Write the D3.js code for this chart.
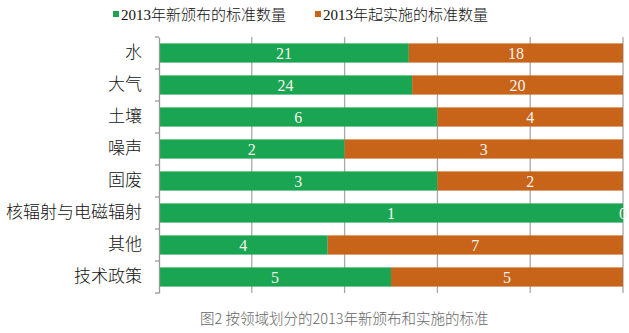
<!DOCTYPE html>
<html>
<head>
<meta charset="utf-8">
<script src="https://cdn.jsdelivr.net/npm/d3@7/dist/d3.min.js"></script>
<style>
  html, body { margin: 0; padding: 0; background: #fff; }
  svg { display: block; }
</style>
</head>
<body>
<svg id="chart" width="629" height="333"></svg>
<script>
// Standards by field: newly published in 2013 vs. taking effect in 2013
const categories = ["水", "大气", "土壤", "噪声", "固废", "核辐射与电磁辐射", "其他", "技术政策"];
const published = [21, 24, 6, 2, 3, 1, 4, 5];
const implemented = [18, 20, 4, 3, 2, 0, 7, 5];
const seriesNames = ["2013年新颁布的标准数量", "2013年起实施的标准数量"];
const seriesColors = ["#19a551", "#c8641a"];
const gridTicks = [0, 0.2, 0.4, 0.6, 0.8, 1];
const caption = "图2 按领域划分的2013年新颁布和实施的标准";

const svg = d3.select("#chart");
const margin = { left: 159, right: 6, top: 37, bottom: 40 };
const W = 629, H = 333;

const rows = categories.map((c, i) => {
  const total = published[i] + implemented[i];
  return { cat: c, vals: [published[i], implemented[i]], total };
});

const x = d3.scaleLinear().domain([0, 1]).range([margin.left, W - margin.right]);
const y = d3.scaleBand().domain(categories).range([margin.top, H - margin.bottom]).paddingInner(0.4).paddingOuter(0.2);

const serif = "'Liberation Serif', 'DejaVu Serif', 'Noto Sans CJK SC', serif";

// vertical gridlines behind bars
svg.append("g").selectAll("line").data(gridTicks.slice(1)).join("line")
  .attr("x1", d => x(d)).attr("x2", d => x(d))
  .attr("y1", margin.top).attr("y2", H - margin.bottom)
  .attr("stroke", "#a8a8a8").attr("stroke-width", 1.3);

// stacked 100% bars
const stack = rows.map(r => {
  let acc = 0;
  return r.vals.map((v, k) => {
    const s = { cat: r.cat, k, v, x0: acc / r.total, x1: (acc + v) / r.total };
    acc += v;
    return s;
  });
});

const seg = svg.append("g").selectAll("g").data(stack).join("g");
seg.selectAll("rect").data(d => d).join("rect")
  .attr("x", d => x(d.x0))
  .attr("width", d => x(d.x1) - x(d.x0))
  .attr("y", d => y(d.cat))
  .attr("height", y.bandwidth())
  .attr("fill", d => seriesColors[d.k]);

seg.selectAll("text").data(d => d).join("text")
  .attr("x", d => (x(d.x0) + x(d.x1)) / 2)
  .attr("y", d => y(d.cat) + y.bandwidth() / 2)
  .attr("dy", "0.36em")
  .attr("text-anchor", "middle")
  .attr("font-family", serif)
  .attr("font-size", 16)
  .attr("fill", "#f4f4ee")
  .text(d => d.v);

// left axis
const yAxis = d3.axisLeft(y).tickSize(0).tickPadding(17);
const ag = svg.append("g").attr("transform", `translate(${margin.left},0)`).call(yAxis);
ag.select(".domain").attr("stroke", "#999").attr("stroke-width", 1.3);
ag.selectAll("text")
  .attr("font-family", serif)
  .attr("font-size", 17)
  .attr("font-weight", 300)
  .attr("fill", "#111");

// tick marks at category boundaries
const step = (H - margin.bottom - margin.top) / categories.length;
svg.append("g").selectAll("line").data(d3.range(categories.length + 1)).join("line")
  .attr("x1", margin.left - 4).attr("x2", margin.left)
  .attr("y1", i => margin.top + i * step)
  .attr("y2", i => margin.top + i * step)
  .attr("stroke", "#999").attr("stroke-width", 1.3);

// legend
const legend = svg.append("g");
const legendX = [113, 315];
seriesNames.forEach((n, i) => {
  legend.append("rect").attr("x", legendX[i]).attr("y", 11).attr("width", 6).attr("height", 6).attr("fill", seriesColors[i]);
  legend.append("text").attr("x", legendX[i] + 8).attr("y", 20)
    .attr("font-family", serif).attr("font-size", 15).attr("font-weight", 300)
    .attr("fill", "#111").text(n);
});

// caption
svg.append("text").attr("x", 200).attr("y", 324)
  .attr("font-family", "'Noto Sans CJK SC', sans-serif")
  .attr("font-size", 14.5).attr("font-weight", 300).attr("fill", "#666").text(caption);
</script>
</body>
</html>
